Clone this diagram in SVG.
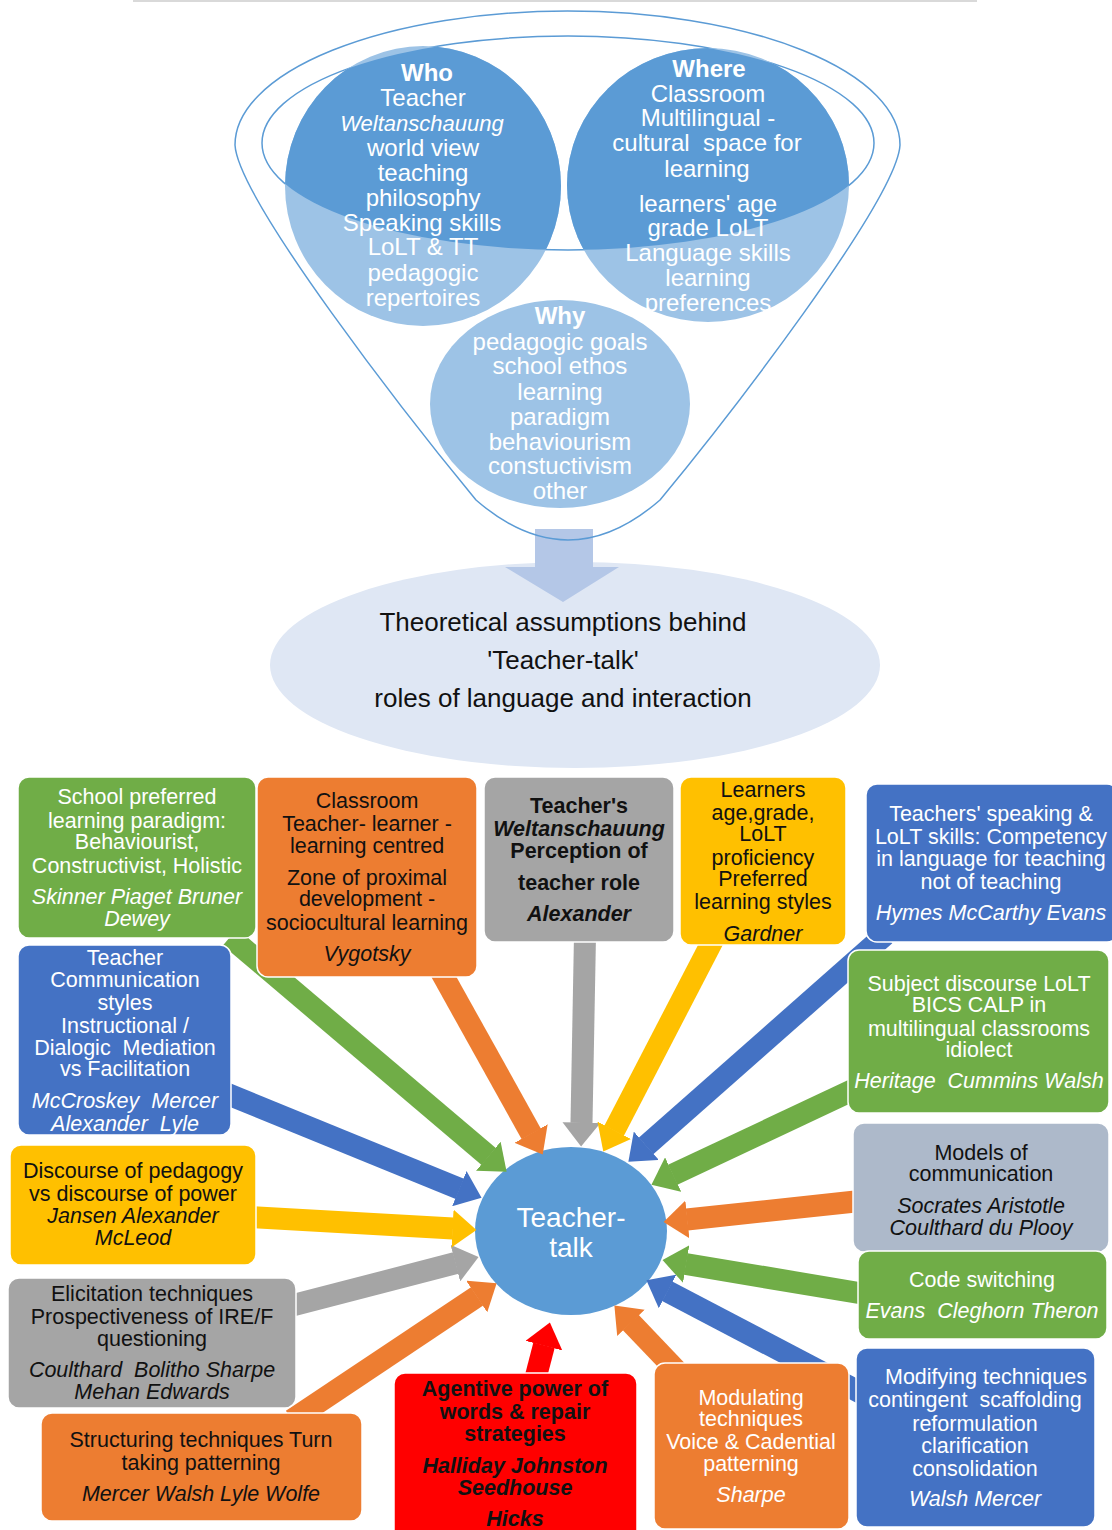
<svg xmlns="http://www.w3.org/2000/svg" width="1112" height="1530" viewBox="0 0 1112 1530">
<style>
.t{font-family:"Liberation Sans",Arial,sans-serif;text-anchor:middle}
.w{fill:#fff}
.k{fill:#111}
.b{font-size:21.5px}
.c{font-size:24px}
.e{font-size:26px}
.i{font-style:italic}
.bd{font-weight:bold}
.box{stroke:#fff;stroke-width:1.5}
.conn line{stroke-width:22;fill:none}
</style>
<defs>
<clipPath id="inner"><ellipse cx="568" cy="143" rx="306" ry="107"/></clipPath>
<marker id="mg" viewBox="0 0 24 38" refX="0.5" refY="19" markerWidth="24" markerHeight="38" markerUnits="userSpaceOnUse" orient="auto"><path d="M0,0 L24,19 L0,38 z" fill="#70ad47"/></marker>
<marker id="mo" viewBox="0 0 24 38" refX="0.5" refY="19" markerWidth="24" markerHeight="38" markerUnits="userSpaceOnUse" orient="auto"><path d="M0,0 L24,19 L0,38 z" fill="#ed7d31"/></marker>
<marker id="ma" viewBox="0 0 24 38" refX="0.5" refY="19" markerWidth="24" markerHeight="38" markerUnits="userSpaceOnUse" orient="auto"><path d="M0,0 L24,19 L0,38 z" fill="#a5a5a5"/></marker>
<marker id="my" viewBox="0 0 24 38" refX="0.5" refY="19" markerWidth="24" markerHeight="38" markerUnits="userSpaceOnUse" orient="auto"><path d="M0,0 L24,19 L0,38 z" fill="#ffc000"/></marker>
<marker id="mb" viewBox="0 0 24 38" refX="0.5" refY="19" markerWidth="24" markerHeight="38" markerUnits="userSpaceOnUse" orient="auto"><path d="M0,0 L24,19 L0,38 z" fill="#4472c4"/></marker>
<marker id="mr" viewBox="0 0 24 38" refX="0.5" refY="19" markerWidth="24" markerHeight="38" markerUnits="userSpaceOnUse" orient="auto"><path d="M0,0 L24,19 L0,38 z" fill="#ff0000"/></marker>
</defs>
<rect width="1112" height="1530" fill="#fff"/>
<line x1="133" y1="1" x2="977" y2="1" stroke="#d9d9d9" stroke-width="2"/>

<g id="assumptions">
<ellipse cx="575" cy="665" rx="305" ry="103" fill="#dfe7f4"/>
<text class="t k e" x="563" y="630.5">Theoretical assumptions behind</text>
<text class="t k e" x="563" y="669">'Teacher-talk'</text>
<text class="t k e" x="563" y="707">roles of language and interaction</text>
</g>

<g id="arrow-down">
<polygon points="535,529 593,529 593,567 619,567 563,602 505,567 535,567" fill="#b4c7e7"/>
</g>

<g id="funnel">
<path d="M235,145 A332.5,134 0 0 1 900,145 C897,200 726,420 660,500 Q568,580 476,500 C410,420 238,200 235,145 Z" fill="none" stroke="#5b9bd5" stroke-width="1.5"/>
<ellipse cx="568" cy="143" rx="306" ry="107" fill="none" stroke="#5b9bd5" stroke-width="1.5"/>
</g>

<g id="node-who">
<ellipse cx="423" cy="186" rx="138" ry="140" fill="#9dc3e6"/>
<ellipse cx="423" cy="186" rx="138" ry="140" fill="#5b9bd5" clip-path="url(#inner)"/>
<text class="t w c bd" x="427" y="81">Who</text>
<text class="t w c" x="423" y="105.5">Teacher</text>
<text class="t w i" style="font-size:22px" x="422" y="131">Weltanschauung</text>
<text class="t w c" x="423" y="156">world view</text>
<text class="t w c" x="423" y="180.5">teaching</text>
<text class="t w c" x="423" y="205.5">philosophy</text>
<text class="t w c" x="422" y="230.5">Speaking skills</text>
<text class="t w c" x="423" y="255">LoLT &amp; TT</text>
<text class="t w c" x="423" y="280.5">pedagogic</text>
<text class="t w c" x="423" y="305.5">repertoires</text>
</g>

<g id="node-where">
<ellipse cx="708" cy="185" rx="141" ry="137" fill="#9dc3e6"/>
<ellipse cx="708" cy="185" rx="141" ry="137" fill="#5b9bd5" clip-path="url(#inner)"/>
<text class="t w c bd" x="709" y="76.5">Where</text>
<text class="t w c" x="708" y="101.5">Classroom</text>
<text class="t w c" x="708" y="125.5">Multilingual -</text>
<text class="t w c" x="707" y="150.5" xml:space="preserve">cultural  space for</text>
<text class="t w c" x="707" y="176.5">learning</text>
<text class="t w c" x="708" y="211.5">learners' age</text>
<text class="t w c" x="708" y="236">grade LoLT</text>
<text class="t w c" x="708" y="260.5">Language skills</text>
<text class="t w c" x="708" y="286">learning</text>
<text class="t w c" x="708" y="310.5">preferences</text>
</g>

<g id="node-why">
<ellipse cx="560" cy="404" rx="130" ry="104" fill="#9dc3e6"/>
<text class="t w c bd" x="560" y="324">Why</text>
<text class="t w c" x="560" y="349.5">pedagogic goals</text>
<text class="t w c" x="560" y="374">school ethos</text>
<text class="t w c" x="560" y="399.5">learning</text>
<text class="t w c" x="560" y="424.5">paradigm</text>
<text class="t w c" x="560" y="449.5">behaviourism</text>
<text class="t w c" x="560" y="474">constuctivism</text>
<text class="t w c" x="560" y="498.5">other</text>
</g>

<g id="node-center">
<ellipse cx="571" cy="1231" rx="96" ry="84" fill="#5b9bd5"/>
<text class="t w" style="font-size:28px" x="571" y="1227">Teacher-</text>
<text class="t w" style="font-size:28px" x="571" y="1257">talk</text>
</g>

<g id="connectors" class="conn">
<line x1="230" y1="937" x2="488.7" y2="1156.5" stroke="#70ad47" marker-end="url(#mg)"/>
<line x1="440" y1="970" x2="531.3" y2="1134" stroke="#ed7d31" marker-end="url(#mo)"/>
<line x1="585" y1="935" x2="581.5" y2="1123" stroke="#a5a5a5" marker-end="url(#ma)"/>
<line x1="713" y1="940" x2="614.1" y2="1130.7" stroke="#ffc000" marker-end="url(#my)"/>
<line x1="885" y1="935" x2="646" y2="1146.1" stroke="#4472c4" marker-end="url(#mb)"/>
<line x1="855" y1="1089" x2="672.7" y2="1174.8" stroke="#70ad47" marker-end="url(#mg)"/>
<line x1="860" y1="1201" x2="686.9" y2="1219.5" stroke="#ed7d31" marker-end="url(#mo)"/>
<line x1="865" y1="1294" x2="685.7" y2="1264" stroke="#70ad47" marker-end="url(#mg)"/>
<line x1="865" y1="1395" x2="667.2" y2="1291.2" stroke="#4472c4" marker-end="url(#mb)"/>
<line x1="678" y1="1372" x2="630.6" y2="1322.4" stroke="#ed7d31" marker-end="url(#mo)"/>
<line x1="535" y1="1380" x2="544" y2="1345.2" stroke="#ff0000" marker-end="url(#mr)"/>
<line x1="292" y1="1420" x2="477.1" y2="1296.3" stroke="#ed7d31" marker-end="url(#mo)"/>
<line x1="290" y1="1306" x2="455.8" y2="1263" stroke="#a5a5a5" marker-end="url(#ma)"/>
<line x1="250" y1="1217" x2="453" y2="1228.6" stroke="#ffc000" marker-end="url(#my)"/>
<line x1="225" y1="1093" x2="459.8" y2="1188.9" stroke="#4472c4" marker-end="url(#mb)"/>
</g>

<g id="box-school">
<rect class="box" x="18" y="777" width="238" height="161" rx="11" fill="#70ad47"/>
<text class="t w b" x="137" y="804">School preferred</text>
<text class="t w b" x="137" y="827.5">learning paradigm:</text>
<text class="t w b" x="137" y="849">Behaviourist,</text>
<text class="t w b" x="137" y="872.5">Constructivist, Holistic</text>
<text class="t w b i" x="137" y="903.5">Skinner Piaget Bruner</text>
<text class="t w b i" x="137" y="925.5">Dewey</text>
</g>

<g id="box-classroom">
<rect class="box" x="257" y="777" width="220" height="200" rx="11" fill="#ed7d31"/>
<text class="t k b" x="367" y="807.5">Classroom</text>
<text class="t k b" x="367" y="830.5">Teacher- learner -</text>
<text class="t k b" x="367" y="852.5">learning centred</text>
<text class="t k b" x="367" y="884.5">Zone of proximal</text>
<text class="t k b" x="367" y="905.5">development -</text>
<text class="t k b" x="367" y="929.5">sociocultural learning</text>
<text class="t k b i" x="367" y="960.5">Vygotsky</text>
</g>

<g id="box-weltanschauung">
<rect class="box" x="484" y="777" width="190" height="165" rx="11" fill="#a5a5a5"/>
<text class="t k b bd" x="579" y="812.5">Teacher's</text>
<text class="t k b bd i" x="579" y="835.5">Weltanschauung</text>
<text class="t k b bd" x="579" y="857.5">Perception of</text>
<text class="t k b bd" x="579" y="889.5">teacher role</text>
<text class="t k b bd i" x="579" y="920.5">Alexander</text>
</g>

<g id="box-learners">
<rect class="box" x="680" y="777" width="166" height="168" rx="11" fill="#ffc000"/>
<text class="t k b" x="763" y="796.5">Learners</text>
<text class="t k b" x="763" y="819.5">age,grade,</text>
<text class="t k b" x="763" y="840.5">LoLT</text>
<text class="t k b" x="763" y="864.5">proficiency</text>
<text class="t k b" x="763" y="885.5">Preferred</text>
<text class="t k b" x="763" y="908.5">learning styles</text>
<text class="t k b i" x="763" y="940.5">Gardner</text>
</g>

<g id="box-speaking">
<rect class="box" x="866" y="784" width="252" height="158" rx="11" fill="#4472c4"/>
<text class="t w b" x="991" y="820.5">Teachers' speaking &amp;</text>
<text class="t w b" x="991" y="843.5">LoLT skills: Competency</text>
<text class="t w b" x="991" y="865.5">in language for teaching</text>
<text class="t w b" x="991" y="888.5">not of teaching</text>
<text class="t w b i" x="991" y="919.5">Hymes McCarthy Evans</text>
</g>

<g id="box-subject">
<rect class="box" x="848" y="950" width="261" height="163" rx="11" fill="#70ad47"/>
<text class="t w b" x="979" y="990.5">Subject discourse LoLT</text>
<text class="t w b" x="979" y="1011.5">BICS CALP in</text>
<text class="t w b" x="979" y="1035.5">multilingual classrooms</text>
<text class="t w b" x="979" y="1056.5">idiolect</text>
<text class="t w b i" x="979" y="1087.5" xml:space="preserve">Heritage  Cummins Walsh</text>
</g>

<g id="box-communication">
<rect class="box" x="18" y="945" width="213" height="190" rx="11" fill="#4472c4"/>
<text class="t w b" x="125" y="964.5">Teacher</text>
<text class="t w b" x="125" y="986.5">Communication</text>
<text class="t w b" x="125" y="1009.5">styles</text>
<text class="t w b" x="125" y="1032.5">Instructional /</text>
<text class="t w b" x="125" y="1054.5" xml:space="preserve">Dialogic  Mediation</text>
<text class="t w b" x="125" y="1075.5">vs Facilitation</text>
<text class="t w b i" x="125" y="1107.5" xml:space="preserve">McCroskey  Mercer</text>
<text class="t w b i" x="125" y="1130.5" xml:space="preserve">Alexander  Lyle</text>
</g>

<g id="box-discourse">
<rect class="box" x="10" y="1145" width="246" height="120" rx="11" fill="#ffc000"/>
<text class="t k b" x="133" y="1177.5">Discourse of pedagogy</text>
<text class="t k b" x="133" y="1200.5">vs discourse of power</text>
<text class="t k b i" x="133" y="1222.5">Jansen Alexander</text>
<text class="t k b i" x="133" y="1244.5">McLeod</text>
</g>

<g id="box-elicitation">
<rect class="box" x="8" y="1278" width="288" height="130" rx="11" fill="#a5a5a5"/>
<text class="t k b" x="152" y="1300.5">Elicitation techniques</text>
<text class="t k b" x="152" y="1323.5">Prospectiveness of IRE/F</text>
<text class="t k b" x="152" y="1345.5">questioning</text>
<text class="t k b i" x="152" y="1376.5" xml:space="preserve">Coulthard  Bolitho Sharpe</text>
<text class="t k b i" x="152" y="1398.5">Mehan Edwards</text>
</g>

<g id="box-structuring">
<rect class="box" x="41" y="1413" width="321" height="108" rx="11" fill="#ed7d31"/>
<text class="t k b" x="201" y="1446.5">Structuring techniques Turn</text>
<text class="t k b" x="201" y="1469.5">taking patterning</text>
<text class="t k b i" x="201" y="1500.5">Mercer Walsh Lyle Wolfe</text>
</g>

<g id="box-agentive">
<rect class="box" x="394" y="1373" width="243" height="175" rx="11" fill="#ff0000"/>
<text class="t k b bd" x="515" y="1395.5">Agentive power of</text>
<text class="t k b bd" x="515" y="1418.5">words &amp; repair</text>
<text class="t k b bd" x="515" y="1440.5">strategies</text>
<text class="t k b bd i" x="515" y="1472.5">Halliday Johnston</text>
<text class="t k b bd i" x="515" y="1494.5">Seedhouse</text>
<text class="t k b bd i" x="515" y="1525.5">Hicks</text>
</g>

<g id="box-modulating">
<rect class="box" x="654" y="1363" width="195" height="166" rx="11" fill="#ed7d31"/>
<text class="t w b" x="751" y="1404.5">Modulating</text>
<text class="t w b" x="751" y="1425.5">techniques</text>
<text class="t w b" x="751" y="1448.5">Voice &amp; Cadential</text>
<text class="t w b" x="751" y="1470.5">patterning</text>
<text class="t w b i" x="751" y="1501.5">Sharpe</text>
</g>

<g id="box-modifying">
<rect class="box" x="856" y="1348" width="239" height="179" rx="11" fill="#4472c4"/>
<text class="t w b" x="986" y="1383.5">Modifying techniques</text>
<text class="t w b" x="975" y="1406.5" xml:space="preserve">contingent  scaffolding</text>
<text class="t w b" x="975" y="1430.5">reformulation</text>
<text class="t w b" x="975" y="1452.5">clarification</text>
<text class="t w b" x="975" y="1475.5">consolidation</text>
<text class="t w b i" x="975" y="1505.5">Walsh Mercer</text>
</g>

<g id="box-models">
<rect class="box" x="853" y="1123" width="256" height="129" rx="11" fill="#adb9ca"/>
<text class="t k b" x="981" y="1159.5">Models of</text>
<text class="t k b" x="981" y="1180.5">communication</text>
<text class="t k b i" x="981" y="1212.5">Socrates Aristotle</text>
<text class="t k b i" x="981" y="1234.5">Coulthard du Plooy</text>
</g>

<g id="box-codeswitching">
<rect class="box" x="858" y="1251" width="249" height="88" rx="11" fill="#70ad47"/>
<text class="t w b" x="982" y="1286.5">Code switching</text>
<text class="t w b i" x="982" y="1317.5" xml:space="preserve">Evans  Cleghorn Theron</text>
</g>
</svg>
